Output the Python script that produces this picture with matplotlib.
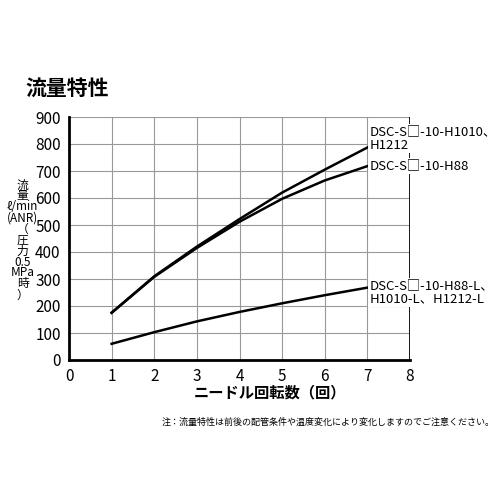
import matplotlib
matplotlib.use("Agg")
import matplotlib.pyplot as plt

plt.rcParams['font.family'] = ['Noto Sans CJK JP', 'DejaVu Sans']

turns = [1, 2, 3, 4, 5, 6, 7]
flow_h1010 = [175, 310, 420, 522, 620, 705, 787]
flow_h88 = [175, 308, 415, 512, 597, 665, 718]
flow_low = [60, 103, 143, 178, 210, 240, 268]
xticks = [0, 1, 2, 3, 4, 5, 6, 7, 8]
yticks = [0, 100, 200, 300, 400, 500, 600, 700, 800, 900]

fig = plt.figure(figsize=(5, 5), dpi=100)
ax = fig.add_axes([0.138, 0.28, 0.682, 0.486])
for v in xticks:
    ax.axvline(v, color='#999999', lw=0.8, zorder=0)
for v in yticks:
    ax.axhline(v, color='#999999', lw=0.8, zorder=0)
ax.plot(turns, flow_h1010, color='black', lw=1.8)
ax.plot(turns, flow_h88, color='black', lw=1.8)
ax.plot(turns, flow_low, color='black', lw=1.8)
ax.set_xlim(0, 8); ax.set_ylim(0, 900)
ax.set_xticks(xticks); ax.set_yticks(yticks)
ax.tick_params(length=0, labelsize=11, pad=6)
ax.spines['top'].set_visible(False)
ax.spines['right'].set_visible(False)
ax.spines['left'].set_linewidth(2)
ax.spines['bottom'].set_linewidth(2)
ax.axvline(8, color='black', lw=2, zorder=3)

bb = dict(facecolor='white', edgecolor='none', pad=1)
ax.text(7.05, 820, 'DSC-S□-10-H1010、\nH1212', fontsize=9.5, va='center', linespacing=1.0, bbox=bb, zorder=4)
ax.text(7.05, 720, 'DSC-S□-10-H88', fontsize=9.5, va='center', bbox=bb, zorder=4)
ax.text(7.05, 250, 'DSC-S□-10-H88-L、\nH1010-L、H1212-L', fontsize=9.5, va='center', linespacing=1.0, bbox=bb, zorder=4)

fig.text(0.05, 0.81, '流量特性', fontsize=15, fontweight='bold')
fig.text(0.54, 0.205, 'ニードル回転数（回）', fontsize=11, fontweight='bold', ha='center')
fig.text(0.045, 0.52, '流\n量\nℓ/min\n(ANR)\n（\n圧\n力\n0.5\nMPa\n時\n）', fontsize=8.5, ha='center', va='center', linespacing=0.8)
fig.text(0.99, 0.15, '注：流量特性は前後の配管条件や温度変化により変化しますのでご注意ください。', fontsize=6.5, ha='right')
fig.savefig('out.png', dpi=100)
